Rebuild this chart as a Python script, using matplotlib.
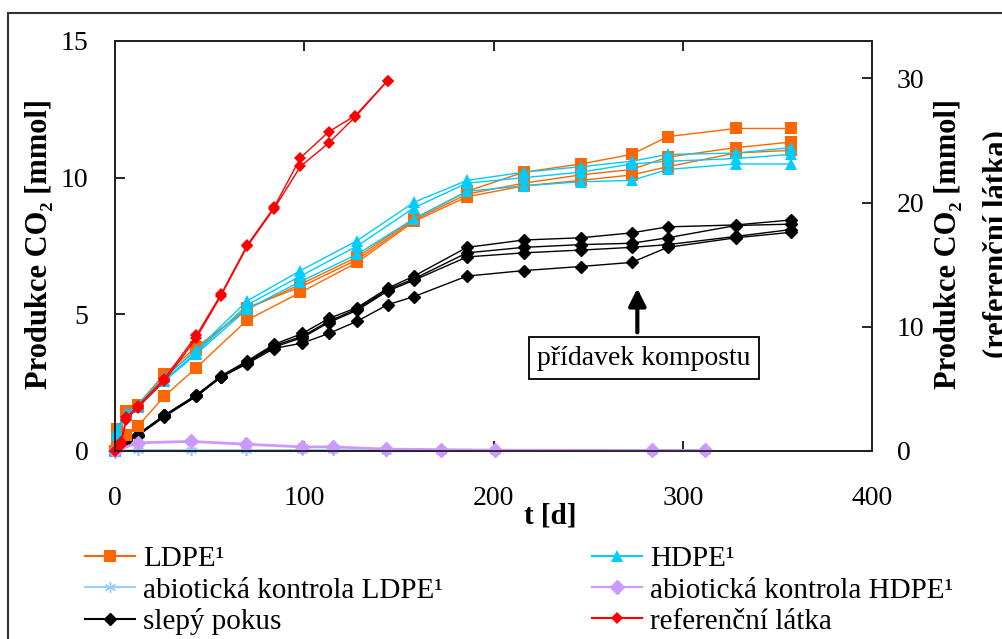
import matplotlib
matplotlib.use("Agg")
import matplotlib.pyplot as plt
from matplotlib.lines import Line2D
from matplotlib.patches import Rectangle

plt.rcParams["font.family"] = ["Liberation Serif", "DejaVu Serif"]

# sampling days
DAYS_PE = [0, 1, 6, 12, 26, 43, 70, 98, 128, 158, 186, 216, 246, 273, 292, 328, 357]
DAYS_BLANK = [0, 6, 12, 26, 43, 56, 70, 84, 99, 113, 128, 144, 158, 186, 216, 246, 273, 292, 328, 357]
DAYS_REF = [0, 3, 6, 12, 26, 43, 56, 70, 84, 98, 113, 127, 144]
DAYS_ABIO = [0, 12, 40, 69, 99, 115, 143, 172, 201, 284, 312]

# LDPE, 3 replicates [mmol]
LDPE = [
    [0, 0.8, 1.45, 1.7, 2.8, 3.8, 5.2, 6.1, 7.1, 8.5, 9.5, 10.2, 10.5, 10.85, 11.5, 11.8, 11.8],
    [0, 0.7, 1.4, 1.65, 2.7, 3.7, 5.25, 6.0, 7.0, 8.45, 9.4, 9.8, 10.1, 10.3, 10.75, 11.1, 11.3],
    [0, 0.3, 0.6, 0.9, 2.0, 3.05, 4.8, 5.8, 6.9, 8.4, 9.3, 9.7, 9.9, 10.1, 10.4, 10.9, 11.0],
]
# HDPE, 3 replicates [mmol]
HDPE = [
    [0, 0.8, 1.4, 1.7, 2.7, 3.7, 5.5, 6.6, 7.7, 9.1, 9.9, 10.2, 10.4, 10.6, 10.85, 10.9, 11.1],
    [0, 0.7, 1.35, 1.65, 2.6, 3.6, 5.35, 6.4, 7.5, 8.9, 9.8, 10.0, 10.2, 10.5, 10.6, 10.7, 10.85],
    [0, 0.6, 1.3, 1.6, 2.55, 3.55, 5.2, 6.2, 7.2, 8.5, 9.5, 9.7, 9.85, 9.9, 10.3, 10.5, 10.5],
]
# blank (slepy pokus) [mmol]
BLANK = [
    [0, 0.4, 0.6, 1.3, 2.05, 2.75, 3.3, 3.9, 4.3, 4.85, 5.25, 5.95, 6.4, 7.45, 7.72, 7.8, 7.98, 8.2, 8.27, 8.45],
    [0, 0.4, 0.6, 1.3, 2.05, 2.7, 3.25, 3.85, 4.2, 4.75, 5.2, 5.9, 6.3, 7.25, 7.45, 7.55, 7.6, 7.8, 8.25, 8.3],
    [0, 0.4, 0.6, 1.3, 2.0, 2.7, 3.25, 3.8, 4.15, 4.7, 5.15, 5.85, 6.25, 7.1, 7.25, 7.35, 7.45, 7.55, 7.85, 8.1],
    [0, 0.35, 0.55, 1.25, 2.0, 2.7, 3.2, 3.75, 3.95, 4.3, 4.75, 5.35, 5.65, 6.4, 6.6, 6.75, 6.9, 7.45, 7.8, 8.0],
]
# reference substance, right axis [mmol]
REF = [
    [0, 0.7, 2.7, 3.6, 5.8, 9.3, 12.6, 16.6, 19.6, 23.6, 25.7, 27.0, 29.8],
    [0, 0.5, 2.5, 3.5, 5.6, 9.1, 12.5, 16.5, 19.5, 22.9, 24.8, 26.9, 29.8],
]
ABIO_LDPE = [0, 0.02, 0.02, 0.02, 0.02, 0.02, 0.01, 0.01, 0.01, 0.01, 0.01]
ABIO_HDPE = [0, 0.3, 0.35, 0.25, 0.15, 0.15, 0.07, 0.05, 0.03, 0.02, 0.02]

LABELS = ["LDPE¹", "HDPE¹", "abiotická kontrola LDPE¹", "abiotická kontrola HDPE¹",
          "slepý pokus", "referenční látka"]

ORANGE = "#FF6600"
CYAN = "#00CCFF"
LIGHTBLUE = "#99CCFF"
LAVENDER = "#CC99FF"
RED = "#FF0000"

FS = 20

fig = plt.figure(figsize=(10.02, 6.39), dpi=100)
ax = fig.add_axes([115 / 1002, 1 - 451 / 639, (872 - 115) / 1002, (451 - 41) / 639])
ax2 = ax.twinx()

kw = dict(lw=1.0, clip_on=False)
ax.plot(DAYS_ABIO, ABIO_LDPE, color=LIGHTBLUE, lw=2, marker=(6, 2, 0), ms=8, mew=1.2,
        clip_on=False)
ax.plot(DAYS_ABIO, ABIO_HDPE, color=LAVENDER, lw=2, marker="D", ms=7, clip_on=False, zorder=3)
for s in BLANK:
    ax.plot(DAYS_BLANK, s, color="black", marker="D", ms=6.5, **kw)
for s in LDPE:
    ax.plot(DAYS_PE, s, color=ORANGE, marker="s", ms=8, mew=0, **kw)
for s in HDPE:
    ax.plot(DAYS_PE, s, color=CYAN, marker="^", ms=9, mew=0, **kw)
for s in REF:
    ax2.plot(DAYS_REF, s, color=RED, marker="D", ms=6.5, mew=0, **kw)

ax.set_xlim(0, 400)
ax.set_ylim(0, 15)
ax2.set_ylim(0, 33)
ax.set_xticks([0, 100, 200, 300, 400])
ax.set_yticks([0, 5, 10, 15])
ax2.set_yticks([0, 10, 20, 30])

for a in (ax, ax2):
    for sp in a.spines.values():
        sp.set_linewidth(1.3)
        sp.set_color("#222222")
ax.tick_params(axis="x", direction="in", top=True, length=7, width=1.2, labelsize=FS, pad=25)
ax.tick_params(axis="y", direction="in", length=7, width=1.2, labelsize=FS, pad=19)
ax2.tick_params(axis="y", direction="in", length=7, width=1.2, labelsize=FS, pad=18)

ylab = "Produkce CO₂ [mmol]"
fig.text(40 / 1002, 1 - 244 / 639, ylab, rotation=90, ha="center", va="center",
         fontsize=22, fontweight="bold")
fig.text(949 / 1002, 1 - 244 / 639, ylab, rotation=90, ha="center", va="center",
         fontsize=22, fontweight="bold")
fig.text(997 / 1002, 1 - 244 / 639, "(referenční látka)", rotation=90, ha="center",
         va="center", fontsize=22, fontweight="bold")
fig.text(550 / 1002, 1 - 516 / 639, "t [d]", ha="center", va="center",
         fontsize=21, fontweight="bold")

# compost addition note
ax.annotate("", xy=(276, 6.05), xytext=(276, 4.24),
            arrowprops=dict(arrowstyle="-|>", color="black", lw=3, mutation_scale=26))
ax.text(279.5, 3.4, "přídavek kompostu", ha="center", va="center", fontsize=FS,
        bbox=dict(boxstyle="square,pad=0.3", fc="white", ec="black", lw=1.3))

# legend, two columns
h = [
    Line2D([], [], color=ORANGE, marker="s", ms=8, mew=0, lw=1.5),
    Line2D([], [], color=CYAN, marker="^", ms=9, mew=0, lw=1.5),
    Line2D([], [], color=LIGHTBLUE, marker=(6, 2, 0), ms=8, lw=1.5),
    Line2D([], [], color=LAVENDER, marker="D", ms=7, lw=1.5),
    Line2D([], [], color="black", marker="D", ms=6.5, lw=1.5),
    Line2D([], [], color=RED, marker="D", ms=6.5, mew=0, lw=1.5),
]
common = dict(frameon=False, fontsize=21, handlelength=1.7, handletextpad=0.3,
              labelspacing=0.16, borderpad=0, borderaxespad=0, loc="upper left")
fig.legend([h[0], h[2], h[4]], [LABELS[0], LABELS[2], LABELS[4]],
           bbox_to_anchor=(85 / 1002, 1 - 546 / 639), **common)
fig.legend([h[1], h[3], h[5]], [LABELS[1], LABELS[3], LABELS[5]],
           bbox_to_anchor=(592 / 1002, 1 - 546 / 639), **common)

# chart area frame
fig.patches.append(Rectangle((8 / 1002, -0.1), 1.2, 1.1 - 13 / 639,
                             transform=fig.transFigure, fill=False, ec="#333333", lw=1.5))

fig.savefig("out.png", dpi=100)
